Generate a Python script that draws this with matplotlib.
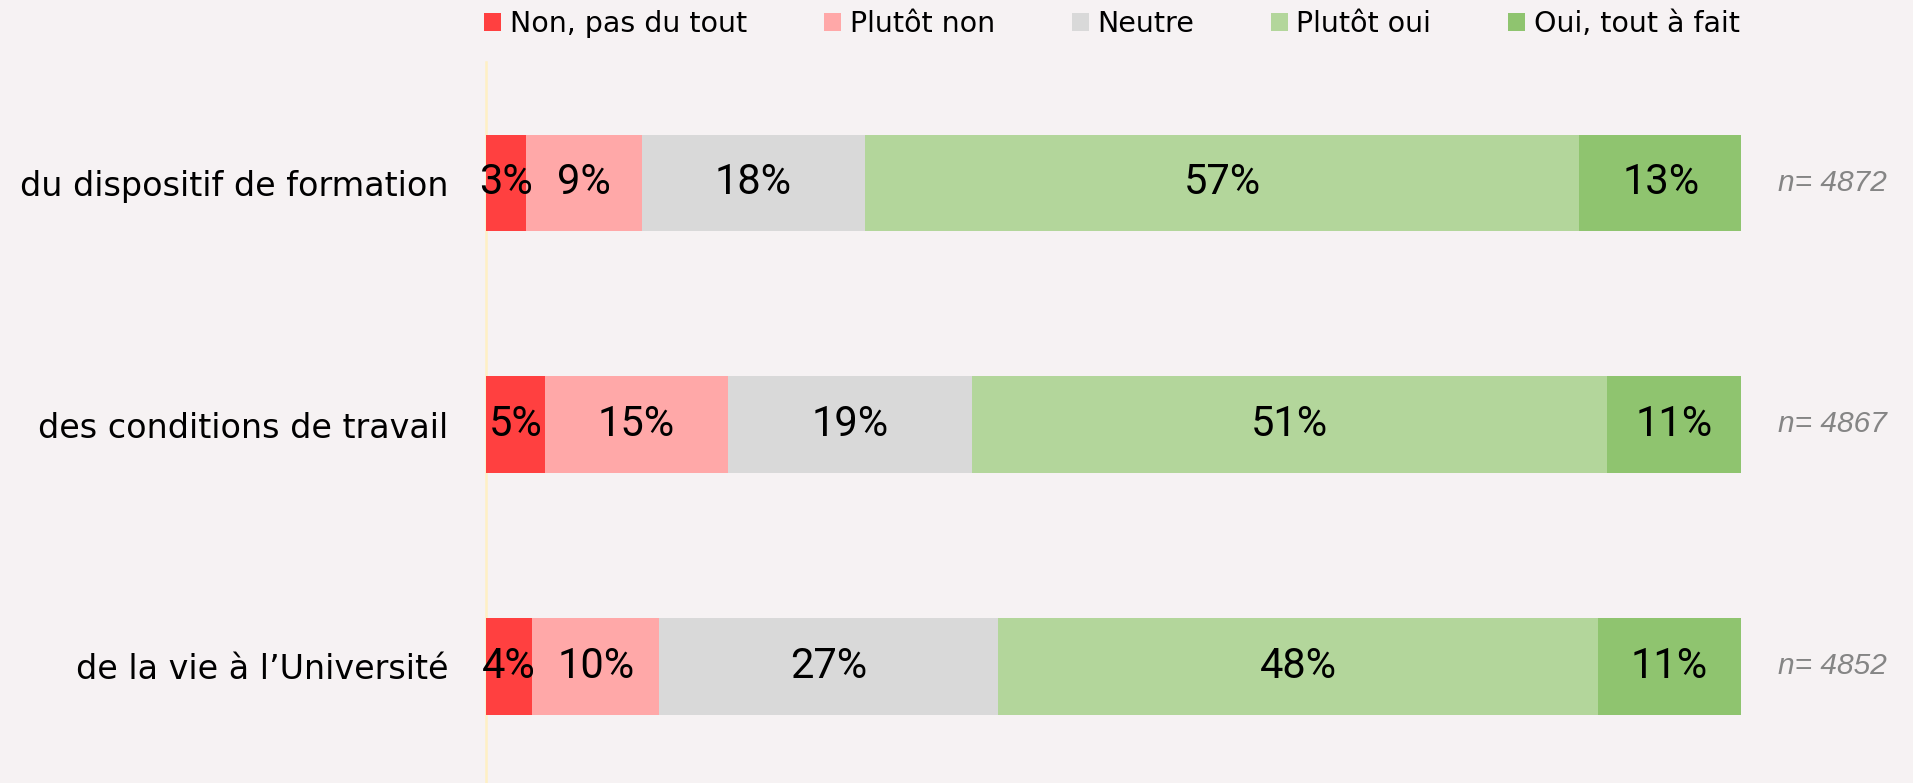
import matplotlib.pyplot as plt
from matplotlib.patches import Patch
import matplotlib.transforms as mtransforms

# Données
categories = ["du dispositif de formation", "des conditions de travail", "de la vie à l’Université"]
reponses = ["Non, pas du tout", "Plutôt non", "Neutre", "Plutôt oui", "Oui, tout à fait"]
non_pas_du_tout = [3.2, 4.7, 3.7]
plutot_non = [9.2, 14.6, 10.1]
neutre = [17.8, 19.4, 27.0]
plutot_oui = [56.9, 50.6, 47.8]
oui_tout_a_fait = [13.0, 10.8, 11.4]
effectifs = [4872, 4867, 4852]

couleurs = ["#FF4040", "#FFA8A8", "#D9D9D9", "#B3D69B", "#8FC46F"]
fond = "#F6F2F3"

series = [non_pas_du_tout, plutot_non, neutre, plutot_oui, oui_tout_a_fait]

fig = plt.figure(figsize=(19.13, 7.83), dpi=100, facecolor=fond)
ax = fig.add_axes([486 / 1913, -4 / 783, 1255 / 1913, 725 / 783])
ax.set_facecolor(fond)

y = list(range(len(categories)))
gauche = [0.0] * len(categories)
for vals, coul in zip(series, couleurs):
    barres = ax.barh(y, vals, left=gauche, height=0.4, color=coul, linewidth=0)
    for b, v in zip(barres, vals):
        ax.text(b.get_x() + b.get_width() / 2, b.get_y() + b.get_height() / 2,
                f"{round(v)}%", ha="center", va="center", fontsize=30,
                family=["Roboto", "DejaVu Sans"], color="black")
    gauche = [g + v for g, v in zip(gauche, vals)]

# n= à droite des barres
trans = mtransforms.blended_transform_factory(ax.transAxes, ax.transData)
for yi, n in zip(y, effectifs):
    ax.text(1.0295, yi, f"n= {n}", transform=trans, ha="left", va="center",
            fontsize=21.5, style="italic", color="#858585",
            family=["Liberation Sans", "DejaVu Sans"], clip_on=False)

ax.set_xlim(0, 100)
ax.set_ylim(2.5, -0.5)
ax.set_yticks(y)
ax.set_yticklabels(categories, fontsize=24, family="DejaVu Sans")
ax.tick_params(axis="y", length=0, pad=27)
ax.set_xticks([])
for s in ["top", "right", "bottom"]:
    ax.spines[s].set_visible(False)
ax.spines["left"].set_color("#FFF0C4")
ax.spines["left"].set_linewidth(1.8)
ax.spines["left"].set_zorder(0.5)

poignees = [Patch(facecolor=c, edgecolor="none") for c in couleurs]
fig.legend(poignees, reponses, loc="center", bbox_to_anchor=(1112 / 1913, 1 - 24 / 783),
           ncol=5, frameon=False, fontsize=20.5, handlelength=0.6, handleheight=0.6,
           handletextpad=0.3, columnspacing=2.7, borderpad=0, borderaxespad=0)

fig.savefig("out.png", dpi=100, facecolor=fond)
